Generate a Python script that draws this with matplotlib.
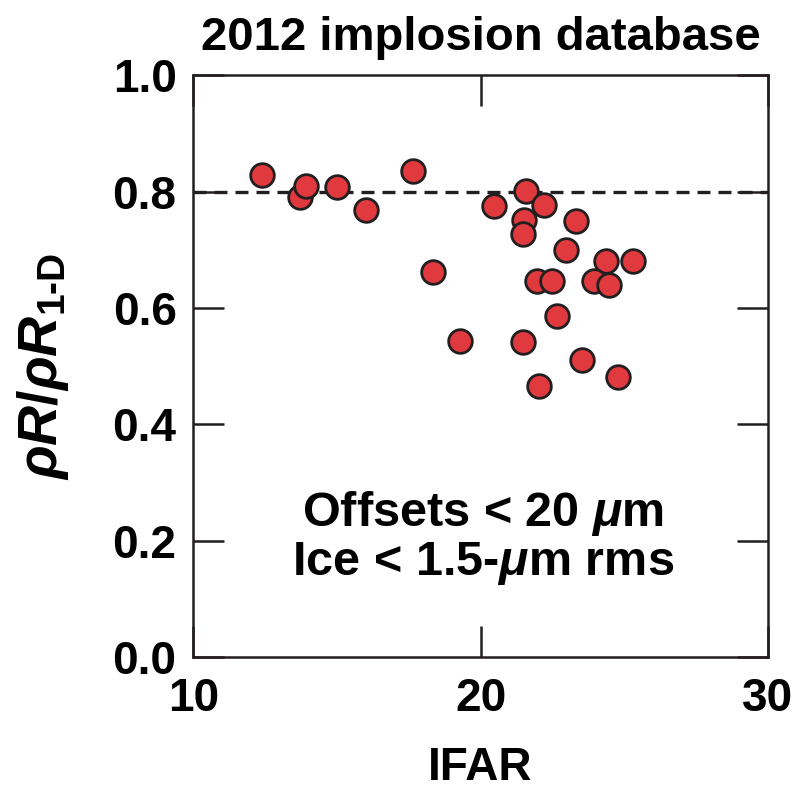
import matplotlib
matplotlib.use("Agg")
import matplotlib.pyplot as plt

# Data
ifar = [12.40, 13.71, 13.93, 14.99, 16.00, 17.66, 18.34, 19.30, 20.45, 21.57,
        22.22, 21.50, 21.49, 23.32, 22.96, 21.95, 22.47, 24.36, 25.30, 23.94,
        24.46, 22.67, 21.49, 23.52, 24.77, 22.02]
rho_ratio = [0.829, 0.790, 0.809, 0.808, 0.768, 0.836, 0.662, 0.543, 0.776, 0.801,
             0.777, 0.751, 0.727, 0.750, 0.700, 0.647, 0.647, 0.681, 0.680, 0.647,
             0.640, 0.586, 0.541, 0.510, 0.482, 0.466]
x_ticks = [10, 20, 30]
y_ticks = [0.0, 0.2, 0.4, 0.6, 0.8, 1.0]
y_tick_labels = ["0.0", "0.2", "0.4", "0.6", "0.8", "1.0"]
reference_level = 0.8

plt.rcParams['font.family'] = ['Liberation Sans', 'DejaVu Sans']
plt.rcParams['font.weight'] = 'bold'
plt.rcParams['mathtext.fontset'] = 'custom'
plt.rcParams['mathtext.rm'] = 'Liberation Sans:bold'
plt.rcParams['mathtext.it'] = 'Liberation Sans:bold:italic'
plt.rcParams['mathtext.bf'] = 'Liberation Sans:bold'

fig = plt.figure(figsize=(8.05, 7.91), dpi=100)
ax = fig.add_axes([0.240, 0.169, 0.714, 0.736])

ax.axhline(reference_level, color='#231f20', lw=2.4, ls=(0, (3.9, 2.4)), zorder=1)
ax.scatter(ifar, rho_ratio, s=290, c='#e03a3e', edgecolors='#231f20',
           linewidths=2.0, zorder=3)

ax.set_xlim(10, 30)
ax.set_ylim(0, 1.0)
ax.set_xticks(x_ticks)
ax.set_xticklabels([str(t) for t in x_ticks], fontsize=33, fontweight='bold')
ax.set_yticks(y_ticks)
ax.set_yticklabels(y_tick_labels, fontsize=33, fontweight='bold')

for sp in ax.spines.values():
    sp.set_linewidth(1.8)
    sp.set_color('#231f20')
ax.tick_params(direction='in', length=22, width=1.8, color='#231f20',
               top=True, right=True)
ax.tick_params(axis='x', pad=14)
ax.tick_params(axis='y', pad=12)

ax.set_xlabel('IFAR', fontsize=33, fontweight='bold', labelpad=18)
ax.set_ylabel(r'$\rho R/\rho R_{\mathrm{1\text{-}D}}$', fontsize=40, labelpad=30)
ax.set_title('2012 implosion database', fontsize=34, fontweight='bold', pad=18)

ax.text(20.1, 0.205, 'Offsets < 20 $\\mu$m\nIce < 1.5-$\\mu$m rms',
        ha='center', va='center', fontsize=35, fontweight='bold',
        linespacing=1.05)

fig.savefig('out.png', dpi=100)
